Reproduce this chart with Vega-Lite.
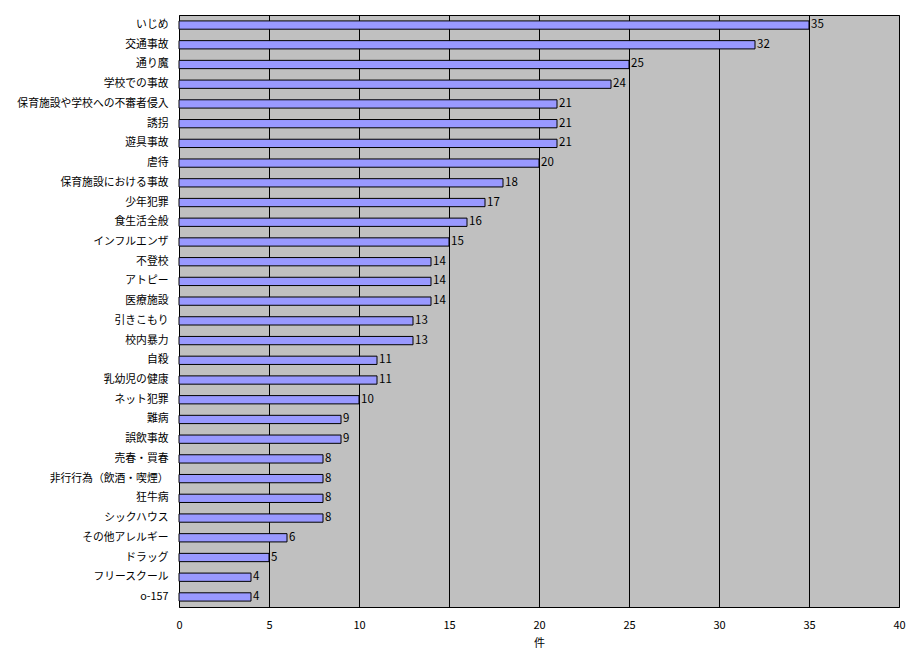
{
  "$schema": "https://vega.github.io/schema/vega-lite/v6.json",
  "width": 720,
  "height": 592,
  "autosize": {"type": "none"},
  "padding": {"left": 179, "top": 15, "right": 25, "bottom": 64},
  "background": "white",
  "config": {
    "font": "Noto Sans CJK JP",
    "view": {"fill": "#C0C0C0", "stroke": "black", "strokeWidth": 1}
  },
  "data": {
    "values": [
      {"item": "いじめ", "count": 35},
      {"item": "交通事故", "count": 32},
      {"item": "通り魔", "count": 25},
      {"item": "学校での事故", "count": 24},
      {"item": "保育施設や学校への不審者侵入", "count": 21},
      {"item": "誘拐", "count": 21},
      {"item": "遊具事故", "count": 21},
      {"item": "虐待", "count": 20},
      {"item": "保育施設における事故", "count": 18},
      {"item": "少年犯罪", "count": 17},
      {"item": "食生活全般", "count": 16},
      {"item": "インフルエンザ", "count": 15},
      {"item": "不登校", "count": 14},
      {"item": "アトピー", "count": 14},
      {"item": "医療施設", "count": 14},
      {"item": "引きこもり", "count": 13},
      {"item": "校内暴力", "count": 13},
      {"item": "自殺", "count": 11},
      {"item": "乳幼児の健康", "count": 11},
      {"item": "ネット犯罪", "count": 10},
      {"item": "難病", "count": 9},
      {"item": "誤飲事故", "count": 9},
      {"item": "売春・買春", "count": 8},
      {"item": "非行行為（飲酒・喫煙）", "count": 8},
      {"item": "狂牛病", "count": 8},
      {"item": "シックハウス", "count": 8},
      {"item": "その他アレルギー", "count": 6},
      {"item": "ドラッグ", "count": 5},
      {"item": "フリースクール", "count": 4},
      {"item": "o-157", "count": 4}
    ]
  },
  "encoding": {
    "y": {
      "field": "item",
      "type": "nominal",
      "sort": null,
      "scale": {"paddingInner": 0.58, "paddingOuter": 0.3},
      "axis": {
        "title": null,
        "ticks": false,
        "domain": false,
        "labelFontSize": 10.8,
        "labelColor": "black",
        "labelPadding": 11
      }
    },
    "x": {
      "field": "count",
      "type": "quantitative",
      "scale": {"domain": [0, 40], "nice": false},
      "axis": {
        "title": "件",
        "titleFontSize": 11,
        "titleFontWeight": "normal",
        "titleColor": "black",
        "titlePadding": 7,
        "values": [0, 5, 10, 15, 20, 25, 30, 35, 40],
        "grid": true,
        "gridColor": "black",
        "gridOpacity": 1,
        "gridWidth": 1,
        "ticks": false,
        "domain": false,
        "labelFlush": false,
        "labelFontSize": 11,
        "labelColor": "black",
        "labelPadding": 12
      }
    }
  },
  "layer": [
    {
      "mark": {"type": "bar", "fill": "#9999FF", "stroke": "black", "strokeWidth": 1}
    },
    {
      "mark": {"type": "text", "align": "left", "dx": 2, "fontSize": 11.5, "color": "black"},
      "encoding": {"text": {"field": "count", "type": "quantitative"}}
    }
  ]
}
